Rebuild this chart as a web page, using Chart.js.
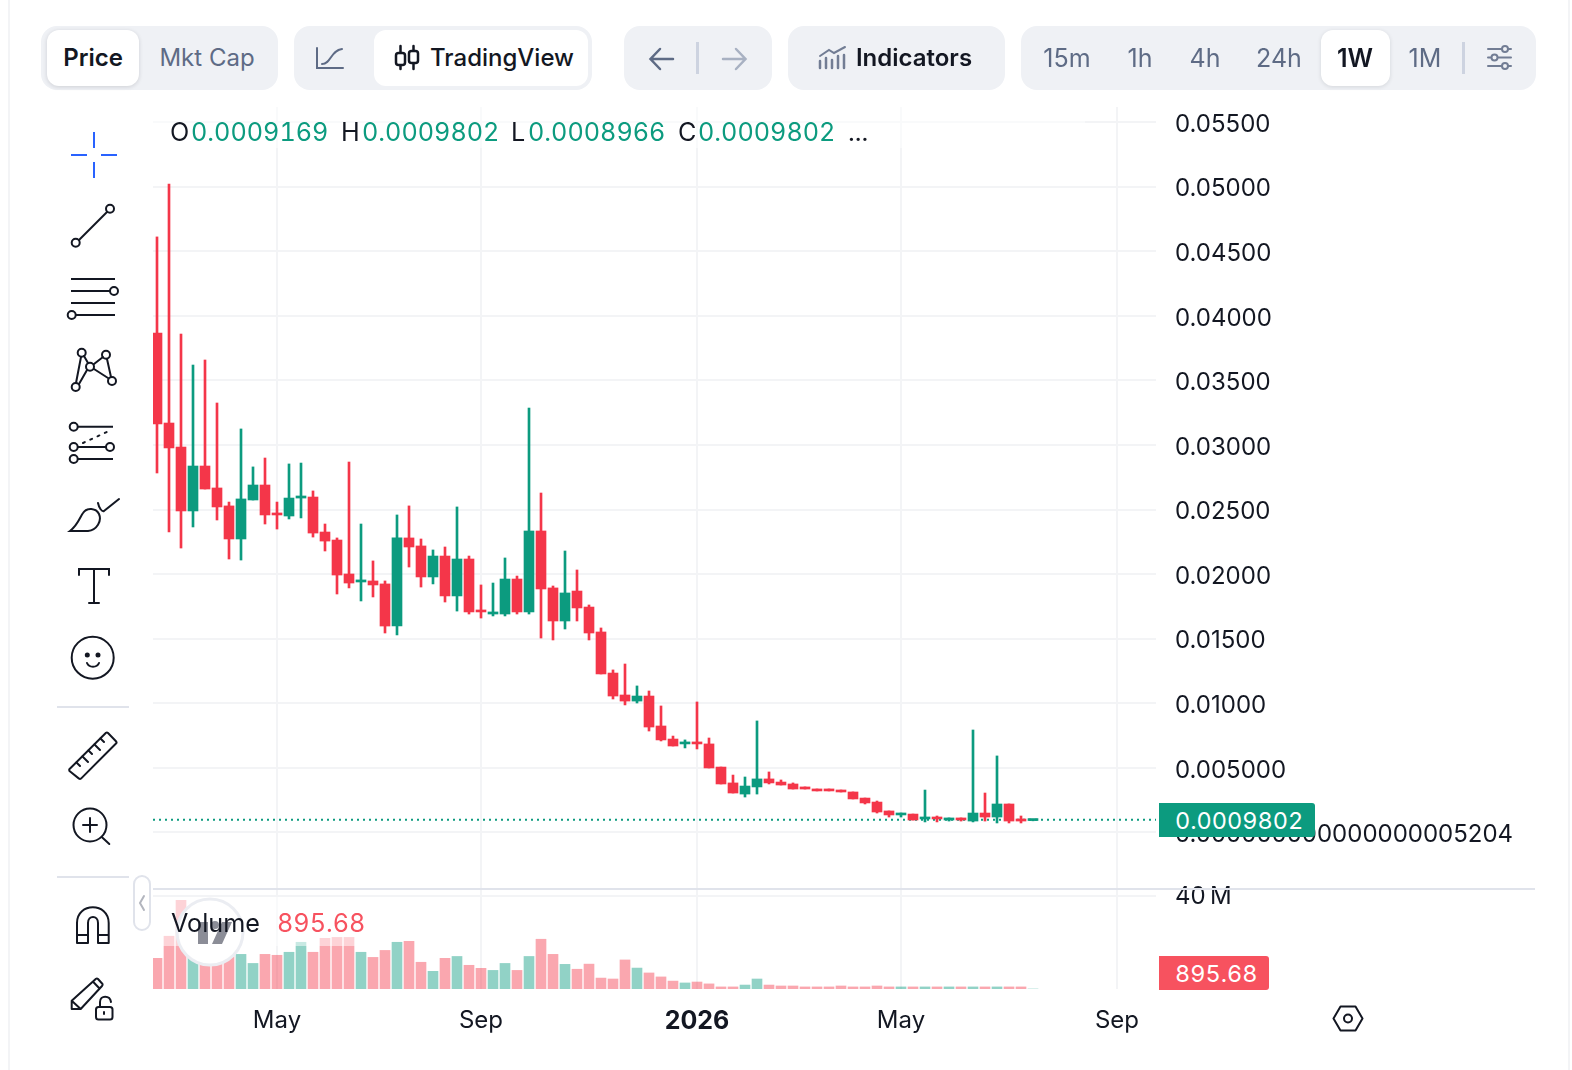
<!DOCTYPE html>
<html>
<head>
<meta charset="utf-8">
<title>Weekly price chart</title>
<script src="https://cdn.jsdelivr.net/npm/chart.js@4/dist/chart.umd.min.js"></script>
<style>
  html, body { margin: 0; padding: 0; background: #fff; }
  body { width: 1572px; height: 1070px; position: relative; overflow: hidden; font-family: Inter, sans-serif; color: #131722; }
  canvas { position: absolute; left: 0; top: 0; }
  svg.icons { position: absolute; left: 0; top: 0; pointer-events: none; }
  .box { position: absolute; }
  .group { background: #EFF1F5; border-radius: 16px; top: 26px; height: 64px; }
  .pill { background: #fff; border-radius: 12px; top: 30px; height: 56px; }
  .t { position: absolute; transform: translate(-50%, -50%); white-space: pre; line-height: 1; font-size: 24px; }
  .r { font-size: 25px; }
  .l { position: absolute; transform: translateY(-50%); white-space: pre; line-height: 1; font-size: 25.200px; font-variant-numeric: tabular-nums; }
  .tag { font-size: 23.500px; color: #fff; }
  .muted { color: #5E6B85; }
  .up { color: #0C9B7F; }
  .down { color: #F7525F; }
</style>
</head>
<body>
<canvas id="chart" width="1572" height="1070"></canvas>

<!-- page edges -->
<div class="box" style="left:8px;top:0;width:2px;height:1070px;background:#F3F4F6"></div>
<div class="box" style="left:1568px;top:0;width:2px;height:1070px;background:#F3F4F6"></div>

<!-- translucent legend backings -->
<div class="box" style="left:153px;top:107px;width:932px;height:41px;background:rgba(255,255,255,.5)"></div>
<div class="box" style="left:153px;top:897px;width:212px;height:49px;background:rgba(255,255,255,.5)"></div>

<!-- pane divider -->
<div class="box" style="left:153px;top:888px;width:1382px;height:2px;background:#E0E3EB"></div>

<!-- last value tags -->
<div class="box" style="left:1159px;top:803px;width:156px;height:34px;background:#0C9B7F;border-radius:0 3px 3px 0"></div>
<div class="l tag" style="left:1175px;top:821px">0.0009802</div>
<div class="box" style="left:1159px;top:956px;width:110px;height:34px;background:#F7525F;border-radius:0 3px 3px 0"></div>
<div class="l tag" style="left:1175px;top:974px">895.68</div>

<!-- toolbar -->
<div class="box group" style="left:41px;width:237px"></div>
<div class="box pill" style="left:47px;width:92px;box-shadow:0 1px 4px rgba(19,23,34,.15)"></div>
<div class="t" style="left:93px;top:58px;font-weight:600">Price</div>
<div class="t muted" style="left:207px;top:58px">Mkt Cap</div>

<div class="box group" style="left:294px;width:298px"></div>
<div class="box pill" style="left:374px;width:214px"></div>
<div class="t" style="left:502px;top:58px;font-weight:500">TradingView</div>

<div class="box group" style="left:624px;width:148px"></div>
<div class="box" style="left:696px;top:42px;width:3px;height:32px;background:#CDD3E0"></div>

<div class="box group" style="left:788px;width:217px"></div>
<div class="t" style="left:914px;top:58px;font-weight:600">Indicators</div>

<div class="box group" style="left:1021px;width:515px"></div>
<div class="t r muted" style="left:1067px;top:58px">15m</div>
<div class="t r muted" style="left:1140px;top:58px">1h</div>
<div class="t r muted" style="left:1205px;top:58px">4h</div>
<div class="t r muted" style="left:1279px;top:58px">24h</div>
<div class="box pill" style="left:1321px;width:69px;box-shadow:0 1px 4px rgba(19,23,34,.12)"></div>
<div class="t r" style="left:1355px;top:58px;font-weight:600">1W</div>
<div class="t r muted" style="left:1425px;top:58px">1M</div>
<div class="box" style="left:1462px;top:42px;width:3px;height:32px;background:#CDD3E0"></div>

<!-- price legend -->
<div class="l" style="left:170px;top:133px">O</div>
<div class="l up" style="left:191px;top:133px">0.0009169</div>
<div class="l" style="left:341px;top:133px">H</div>
<div class="l up" style="left:362px;top:133px">0.0009802</div>
<div class="l" style="left:511px;top:133px">L</div>
<div class="l up" style="left:528px;top:133px">0.0008966</div>
<div class="l" style="left:678px;top:133px">C</div>
<div class="l up" style="left:698px;top:133px">0.0009802</div>
<div class="l" style="left:848px;top:133px">...</div>

<!-- watermark badge sits under the volume legend -->
<svg class="icons" width="1572" height="1070" viewBox="0 0 1572 1070" fill="none" stroke="#131722" stroke-width="2" stroke-linecap="round">
  <circle cx="210" cy="932" r="33" fill="#fff" stroke="#EBEDF2" stroke-width="3"/>
  <g fill="#8B8D97" stroke="none">
    <rect x="198" y="922" width="10" height="22"/>
    <circle cx="215" cy="925" r="4"/>
    <path d="M222 922H232L222 944H212Z"/>
  </g>

  <!-- toolbar icons -->
  <g stroke="#5E6B85">
    <path d="M317 48V68H343"/>
    <path d="M322 64C331 64 331 50 342 49"/>
    <path d="M673 59H651M660 49L650.500 59L660 69" stroke-width="2.500"/>
  </g>
  <path d="M723 59H745M736 49L745.500 59L736 69" stroke="#A8B1C2" stroke-width="2.500"/>
  <g stroke="#131722" stroke-width="2.500">
    <path d="M400.500 46V69M413.500 46V69"/>
    <rect x="396" y="53" width="9" height="12" rx="2.500" fill="#fff"/>
    <rect x="409" y="51" width="9" height="12" rx="2.500" fill="#fff"/>
  </g>
  <g stroke="#727D94">
    <path d="M820 68V61M826 68V58M832 68V60M838 68V56M844 68V55" stroke-width="2.500"/>
    <path d="M820 56L829 50L834 53L845 47"/>
  </g>
  <g stroke="#727D94">
    <path d="M1488 49H1511M1488 57.500H1511M1488 66H1511"/>
    <circle cx="1505" cy="49" r="3" fill="#EFF1F5"/>
    <circle cx="1494.500" cy="57.500" r="3" fill="#EFF1F5"/>
    <circle cx="1505" cy="66" r="3" fill="#EFF1F5"/>
  </g>

  <!-- drawing tools -->
  <path d="M71 155H87M101 155H117M94 132V148M94 162V178" stroke="#2962FF" stroke-linecap="butt"/>

  <path d="M79 240L107 212"/>
  <circle cx="75.700" cy="242.700" r="4"/>
  <circle cx="110" cy="208.700" r="4"/>

  <path d="M71 279H115M71 291H110M71 303H115M76 315H115" stroke-linecap="butt"/>
  <circle cx="114" cy="291" r="4"/>
  <circle cx="71.700" cy="315" r="4"/>

  <path d="M81 357L76 383M79 384L87 370M84 356L88 363M94 364L103 357M107 359L111 377M94 369L108 378"/>
  <circle cx="81.700" cy="352.700" r="4"/>
  <circle cx="106" cy="354.700" r="4"/>
  <circle cx="90" cy="366.700" r="4"/>
  <circle cx="75.700" cy="387" r="4"/>
  <circle cx="112" cy="381" r="4"/>

  <path d="M78 426.700H113M78 447H106M78 459H113" stroke-linecap="butt"/>
  <path d="M83 443L109 431" stroke-dasharray="2 6"/>
  <circle cx="73.700" cy="426.700" r="4"/>
  <circle cx="73.700" cy="447" r="4"/>
  <circle cx="110" cy="447" r="4"/>
  <circle cx="73.700" cy="459" r="4"/>

  <path d="M70 531C78 525 80 517 83 513C87 507 96 508 99 514C102 521 97 530 88 531Z"/>
  <path d="M98 503C99 508 102 512 104 511L119 499"/>

  <path d="M79 575V569H109V575M94 569V603M89 603H99"/>

  <circle cx="92.700" cy="657.700" r="21"/>
  <circle cx="87.300" cy="655" r="1.500" fill="#131722"/>
  <circle cx="98" cy="655" r="1.500" fill="#131722"/>
  <path d="M87 663C89 668 97 668 99 663"/>

  <path d="M57 707H129M57 877H129" stroke="#E0E3EB" stroke-linecap="butt"/>

  <path d="M69.300 769.300L106 732.700Q107 732 108 733L116.200 741.500Q117 742.500 116 743.500L81 778.600Q80 779.500 79 778.600L69.500 771Q69 770 69.300 769.300Z" stroke-linejoin="round"/>
  <path d="M76.500 762.500L80 766M82.500 756.500L88 762M88.500 750.500L92 754M94.500 744.500L100 750M100.500 738.500L104 742"/>

  <circle cx="90" cy="825" r="16.500"/>
  <path d="M83 825H97M90 818V832M102 837.300L109.300 844"/>

  <path d="M77 943V923C77 902 108.700 902 108.700 923V943H98V923C98 915 88 915 88 923V943ZM77 935H88M98 935H108.700" stroke-linejoin="round"/>

  <path d="M71.700 1009V1000.700L96 978.700Q97 978 98 979L102.500 984Q103 985 102 986L80.700 1009ZM71.700 1000.700L80.700 1009M93.300 982L99.300 988.300" stroke-linejoin="round"/>
  <rect x="96" y="1007" width="16.500" height="12.500" rx="2.500" fill="#fff"/>
  <path d="M100 1007V1002C100 995 110 995 111 1002"/>
  <path d="M104 1012V1014"/>

  <path d="M1333.500 1018.500L1340.500 1006.500H1355.500L1362.500 1018.500L1355.500 1030.500H1340.500Z" stroke-linejoin="round"/>
  <circle cx="1348" cy="1018.500" r="4"/>
</svg>

<!-- volume legend -->
<div class="l" style="left:171px;top:924px">Volume</div>
<div class="l down" style="left:277px;top:924px">895.68</div>

<!-- sidebar collapse handle -->
<div class="box" style="left:133px;top:875px;width:14px;height:52px;background:#fff;border:2px solid #E0E3EB;border-radius:9px"></div>
<svg class="icons" width="1572" height="1070" viewBox="0 0 1572 1070" fill="none">
  <path d="M144 896L140 903L144 910" stroke="#B2B5BE" stroke-width="2" stroke-linecap="round"/>
</svg>

<script>
// Weekly candles, oldest first.
const openPrices = [
  0.03867, 0.03170, 0.02984, 0.02489, 0.02837, 0.02667, 0.02528, 0.02272, 0.02574, 0.02690,
  0.02473, 0.02450, 0.02589, 0.02597, 0.02326, 0.02264, 0.02001, 0.01939, 0.01947, 0.01924,
  0.01598, 0.02280, 0.02218, 0.01978, 0.02140, 0.01831, 0.02117, 0.01722, 0.01691, 0.01691,
  0.01962, 0.01707, 0.02334, 0.01893, 0.01637, 0.01869, 0.01745, 0.01552, 0.01234, 0.01064,
  0.01017, 0.01056, 0.00824, 0.00723, 0.00685, 0.00700, 0.00685, 0.00506, 0.00383, 0.00297,
  0.00352, 0.00414, 0.00390, 0.00375, 0.00352, 0.00336, 0.00336, 0.00328, 0.00313, 0.00266,
  0.00235, 0.00166, 0.00135, 0.00142, 0.00104, 0.00119, 0.00096, 0.00112, 0.00088, 0.00150,
  0.00119, 0.00220, 0.00104, 0.0009169
];
const closePrices = [
  0.03163, 0.02977, 0.02489, 0.02837, 0.02659, 0.02520, 0.02272, 0.02582, 0.02690, 0.02458,
  0.02458, 0.02589, 0.02605, 0.02318, 0.02256, 0.01993, 0.01931, 0.01955, 0.01916, 0.01598,
  0.02280, 0.02210, 0.01978, 0.02140, 0.01831, 0.02117, 0.01707, 0.01707, 0.01707, 0.01962,
  0.01707, 0.02334, 0.01885, 0.01637, 0.01854, 0.01738, 0.01544, 0.01227, 0.01056, 0.01017,
  0.01056, 0.00816, 0.00716, 0.00669, 0.00700, 0.00685, 0.00499, 0.00375, 0.00305, 0.00359,
  0.00414, 0.00383, 0.00367, 0.00336, 0.00336, 0.00321, 0.00321, 0.00313, 0.00259, 0.00228,
  0.00158, 0.00135, 0.00150, 0.00096, 0.00119, 0.00104, 0.00112, 0.00096, 0.00150, 0.00119,
  0.00220, 0.00088, 0.00088, 0.0009802
];
const highPrices = [
  0.04611, 0.05021, 0.03859, 0.03619, 0.03658, 0.03325, 0.02558, 0.03124, 0.02830, 0.02899,
  0.02558, 0.02853, 0.02860, 0.02644, 0.02388, 0.02280, 0.02868, 0.02388, 0.02102, 0.01947,
  0.02458, 0.02528, 0.02272, 0.02187, 0.02210, 0.02520, 0.02140, 0.01916, 0.01931, 0.02125,
  0.01985, 0.03286, 0.02628, 0.01908, 0.02179, 0.02032, 0.01761, 0.01583, 0.01258, 0.01304,
  0.01134, 0.01095, 0.00979, 0.00746, 0.00716, 0.01010, 0.00731, 0.00506, 0.00444, 0.00429,
  0.00863, 0.00468, 0.00406, 0.00383, 0.00352, 0.00336, 0.00336, 0.00328, 0.00313, 0.00266,
  0.00243, 0.00166, 0.00150, 0.00142, 0.00328, 0.00127, 0.00112, 0.00112, 0.00793, 0.00305,
  0.00592, 0.00220, 0.00127, 0.0009802
];
const lowPrices = [
  0.02783, 0.02326, 0.02202, 0.02365, 0.02659, 0.02419, 0.02117, 0.02109, 0.02574, 0.02388,
  0.02349, 0.02427, 0.02435, 0.02287, 0.02179, 0.01846, 0.01893, 0.01792, 0.01823, 0.01544,
  0.01529, 0.02055, 0.01900, 0.01924, 0.01784, 0.01714, 0.01691, 0.01660, 0.01676, 0.01676,
  0.01691, 0.01691, 0.01505, 0.01490, 0.01575, 0.01637, 0.01490, 0.01227, 0.01033, 0.00987,
  0.01002, 0.00785, 0.00708, 0.00669, 0.00654, 0.00646, 0.00499, 0.00375, 0.00305, 0.00274,
  0.00297, 0.00375, 0.00367, 0.00336, 0.00336, 0.00321, 0.00321, 0.00313, 0.00259, 0.00220,
  0.00150, 0.00119, 0.00119, 0.00096, 0.00081, 0.00081, 0.00088, 0.00088, 0.00081, 0.00088,
  0.00073, 0.00073, 0.00073, 0.0008966
];
// Traded volume per week, in millions.
const volumeMillions = [
  13.2, 22.7, 38.1, 14, 13, 13, 14, 14.9, 11, 14.9,
  14.5, 15.8, 20.1, 15.8, 21.8, 22.2, 22.2, 15.8, 13.6, 16.6,
  20.1, 20.5, 11.5, 7.6, 13.2, 14, 10.2, 8.9, 8, 11,
  8, 14, 21.4, 14.9, 10.6, 8.5, 10.7, 4.7, 4.3, 12.5,
  9, 6.9, 5.2, 3.4, 2.6, 3, 2.2, 0.9, 0.9, 1.7,
  4.3, 1.7, 1.3, 1.3, 0.9, 0.9, 0.9, 1.3, 0.9, 0.9,
  1.3, 0.9, 0.9, 0.9, 0.9, 0.9, 0.9, 0.9, 0.9, 0.9,
  0.9, 0.9, 0.9, 0.00089568
];

// Axis ticks: week numbers on x, values and their printed forms on y.
const weekTicks = [10, 27, 45, 62, 80];
const weekTickLabels = ['May', 'Sep', '2026', 'May', 'Sep'];
const priceTicks = [0.055, 0.05, 0.045, 0.04, 0.035, 0.03, 0.025, 0.02, 0.015, 0.01, 0.005, 0];
const priceTickLabels = [
  '0.05500', '0.05000', '0.04500', '0.04000', '0.03500', '0.03000',
  '0.02500', '0.02000', '0.01500', '0.01000', '0.005000', '0.000000000000000005204'
];
const volumeTicks = [40];
const volumeTickLabels = ['40\u2009M'];

const UP = '#0C9B7F', DOWN = '#F43649';
const UP_SOFT = 'rgba(12,155,128,.45)', DOWN_SOFT = 'rgba(244,54,73,.44)';
const GRID = '#F3F4F6';
const INK = '#131722';
const FONT = 'Inter, sans-serif';

const X_MIN = -1 / 3, X_MAX = 83.25;
const AXIS_GUTTER = 416;
const weeks = openPrices.map((_, i) => i);
const rising = weeks.map(i => closePrices[i] >= openPrices[i]);
const candleColors = rising.map(r => (r ? UP : DOWN));
const volumeColors = rising.map(r => (r ? UP_SOFT : DOWN_SOFT));

// Both y axes share one plot area and one gutter, so each spans the whole height
// and neither takes its own width in the layout.
const axisFont = { family: FONT, size: 24 };
const fixedYAxis = (ticks, labels, min, max, labelOffset) => ({
  type: 'linear',
  position: 'right',
  min,
  max,
  afterBuildTicks: s => { s.ticks = ticks.map(value => ({ value })); },
  afterFit: s => { s.width = 0; },
  grid: { color: GRID, lineWidth: 2, drawTicks: false },
  border: { display: false },
  ticks: {
    autoSkip: false,
    padding: 19,
    labelOffset,
    crossAlign: 'near',
    color: INK,
    font: axisFont,
    callback: (v, i) => labels[i]
  }
});

// Tick labels are clipped to the axis box: widen the boxes once layout is done.
const gutterLabels = {
  id: 'gutterLabels',
  afterLayout(chart) {
    ['price', 'volume'].forEach(id => {
      chart.scales[id].right = chart.scales[id].left + AXIS_GUTTER;
    });
  }
};

new Chart(document.getElementById('chart'), {
  type: 'bar',
  plugins: [gutterLabels],
  data: {
    datasets: [
      {
        label: 'Last close',
        type: 'line',
        yAxisID: 'price',
        data: [
          { x: X_MIN, y: closePrices[closePrices.length - 1] },
          { x: X_MAX, y: closePrices[closePrices.length - 1] }
        ],
        borderColor: UP,
        borderWidth: 2,
        borderDash: [2, 4],
        pointRadius: 0,
        order: 4
      },
      {
        label: 'Body',
        yAxisID: 'price',
        data: weeks.map(i => ({ x: i, y: [openPrices[i], closePrices[i]] })),
        backgroundColor: candleColors,
        barThickness: 10,
        minBarLength: 2,
        borderWidth: 0,
        borderSkipped: false,
        grouped: false,
        order: 1
      },
      {
        label: 'Wick',
        yAxisID: 'price',
        data: weeks.map(i => ({ x: i, y: [lowPrices[i], highPrices[i]] })),
        backgroundColor: candleColors,
        barThickness: 2,
        borderWidth: 0,
        borderSkipped: false,
        grouped: false,
        order: 2
      },
      {
        label: 'Volume',
        yAxisID: 'volume',
        data: weeks.map(i => ({ x: i, y: volumeMillions[i] })),
        backgroundColor: volumeColors,
        barThickness: 10,
        borderWidth: 0,
        grouped: false,
        order: 3
      }
    ]
  },
  options: {
    responsive: false,
    animation: false,
    layout: { autoPadding: false, padding: { left: 153, right: AXIS_GUTTER, top: 107, bottom: 0 } },
    plugins: { legend: { display: false }, tooltip: { enabled: false } },
    scales: {
      x: {
        type: 'linear',
        offset: false,
        min: X_MIN,
        max: X_MAX,
        afterBuildTicks: s => { s.ticks = weekTicks.map(value => ({ value })); },
        afterFit: s => { s.height = 81; },
        grid: { color: GRID, lineWidth: 2, drawTicks: false, offset: false },
        border: { display: false },
        ticks: {
          autoSkip: false,
          maxRotation: 0,
          padding: 17,
          color: INK,
          font: ctx => (weekTickLabels[ctx.index] === '2026'
            ? { family: FONT, size: 25, weight: '700' }
            : axisFont),
          callback: (v, i) => weekTickLabels[i]
        }
      },
      price: fixedYAxis(priceTicks, priceTickLabels, -0.012126, 0.05617, 2.5),
      volume: fixedYAxis(volumeTicks, volumeTickLabels, 0, 379.4, 0.5)
    }
  }
});
</script>
</body>
</html>
